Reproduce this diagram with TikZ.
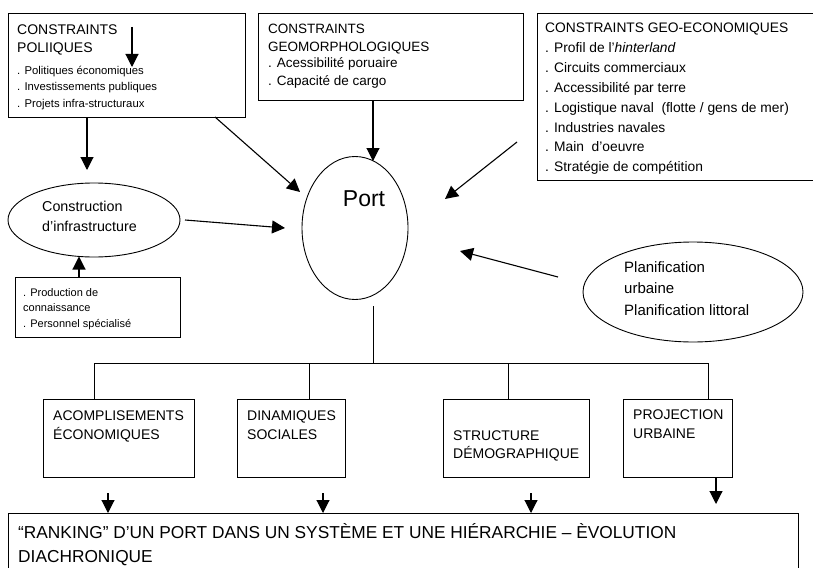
\documentclass[tikz,border=0pt]{standalone}
\usepackage{fontspec}
\setmainfont{Liberation Sans}
\usetikzlibrary{arrows.meta,shapes.geometric,calc}
\newcommand\fszTitle{\fontsize{14}{16}\selectfont}
\newcommand\fszItem{\fontsize{11.3}{13}\selectfont}
\newcommand\fszGeo{\fontsize{13.5}{15}\selectfont}
\newcommand\fszEco{\fontsize{13.8}{15}\selectfont}
\newcommand\fszCon{\fontsize{14.3}{16}\selectfont}
\newcommand\fszProd{\fontsize{11}{13}\selectfont}
\newcommand\fszPlan{\fontsize{15}{17}\selectfont}
\newcommand\fszPort{\fontsize{23}{26}\selectfont}
\newcommand\fszBot{\fontsize{14}{16}\selectfont}
\newcommand\fszRank{\fontsize{17.3}{20}\selectfont}
\begin{document}
\begin{tikzpicture}[x=1pt,y=-1pt,
  frame/.style={draw, line width=0.9pt, inner sep=0pt, anchor=north west},
  oval/.style={draw, ellipse, line width=0.9pt, inner sep=0pt},
  txt/.style={anchor=base west, inner sep=0pt},
  arr/.style={line width=1.1pt, -{Triangle[length=13pt,width=13pt]}},
  ln/.style={line width=1pt}]
\useasboundingbox (0,0) rectangle (813,567);

% ---------- top boxes ----------
\node[frame, minimum width=237pt, minimum height=104pt] (b1) at (8,13) {};
\node[txt, font=\fszTitle] (b1t1) at (17,35) {CONSTRAINTS};
\node[txt, font=\fszTitle] (b1t2) at (17,53) {POLIIQUES};
\foreach \t [count=\i from 0] in {{. Politiques économiques},{. Investissements publiques},{. Projets infra-structuraux}}
  \node[txt, font=\fszItem] (b1i\i) at (17,{74.5+16.3*\i}) {\t};

\node[frame, minimum width=265pt, minimum height=87pt] (b2) at (258,13) {};
\foreach \t/\yy [count=\i] in {{CONSTRAINTS}/34,{GEOMORPHOLOGIQUES}/52,{. Acessibilité poruaire}/68,{. Capacité de cargo}/86}
  \node[txt, font=\fszGeo] (b2l\i) at (268,\yy) {\t};

\node[frame, minimum width=300pt, minimum height=167pt] (b3) at (537,13) {};
\foreach \t [count=\i from 0] in {{CONSTRAINTS GEO-ECONOMIQUES},{. Profil de l’\textit{hinterland}},{. Circuits commerciaux},{. Accessibilité par terre},{. Logistique naval\ \ (flotte / gens de mer)},{. Industries navales},{. Main\ \ d’oeuvre},{. Stratégie de compétition}}
  \node[txt, font=\fszEco] (b3l\i) at (545,{33+19.8*\i}) {\t};

% ---------- middle ----------
\node[oval, minimum width=172pt, minimum height=74pt] (con) at (94,220) {};
\node[txt, font=\fszCon] (con1) at (42,211) {Construction};
\node[txt, font=\fszCon] (con2) at (42,231) {d’infrastructure};

\node[frame, minimum width=165pt, minimum height=60pt] (prod) at (15,277) {};
\node[txt, font=\fszProd] (pr1) at (23,296) {. Production de};
\node[txt, font=\fszProd] (pr2) at (23,311.5) {connaissance};
\node[txt, font=\fszProd] (pr3) at (23,327) {. Personnel spécialisé};

\node[oval, minimum width=106pt, minimum height=143pt] (port) at (355,228) {};
\node[anchor=base, inner sep=0pt, font=\fszPort] (portt) at (364,206) {Port};

\node[oval, minimum width=220pt, minimum height=100pt] (plan) at (693,292) {};
\node[txt, font=\fszPlan] (pl1) at (624,272) {Planification};
\node[txt, font=\fszPlan] (pl2) at (624,293.5) {urbaine};
\node[txt, font=\fszPlan] (pl3) at (624,315) {Planification littoral};

% ---------- bottom boxes ----------
\node[frame, minimum width=151pt, minimum height=78pt] (a1) at (43,399) {};
\node[txt, font=\fszBot] (a1t1) at (53,420) {ACOMPLISEMENTS};
\node[txt, font=\fszBot] (a1t2) at (53,439) {ÉCONOMIQUES};

\node[frame, minimum width=108pt, minimum height=78pt] (a2) at (237,399) {};
\node[txt, font=\fszBot] (a2t1) at (247,420) {DINAMIQUES};
\node[txt, font=\fszBot] (a2t2) at (247,439) {SOCIALES};

\node[frame, minimum width=146pt, minimum height=78pt] (a3) at (443,399) {};
\node[txt, font=\fszBot] (a3t1) at (453,440) {STRUCTURE};
\node[txt, font=\fszBot] (a3t2) at (453,458) {DÉMOGRAPHIQUE};

\node[frame, minimum width=109pt, minimum height=78pt] (a4) at (623,399) {};
\node[txt, font=\fszBot] (a4t1) at (633,419) {PROJECTION};
\node[txt, font=\fszBot] (a4t2) at (633,438) {URBAINE};

\node[frame, minimum width=790pt, minimum height=70pt] (rk) at (8,513) {};
\node[txt, font=\fszRank] (rk1) at (18,538) {“RANKING” D’UN PORT DANS UN SYSTÈME ET UNE HIÉRARCHIE – ÈVOLUTION};
\node[txt, font=\fszRank] (rk2) at (18,562) {DIACHRONIQUE};

% ---------- connector coordinates ----------
\coordinate (s0) at (132,27);  \coordinate (t0) at (132,67);
\coordinate (t1) at (87,170);
\coordinate (s2) at (215,117); \coordinate (t2) at (300,192);
\coordinate (s3) at (185,220); \coordinate (t3) at (285,228);
\coordinate (t4) at (373,161);
\coordinate (s5) at (517,142); \coordinate (t5) at (445,199);
\coordinate (s6) at (558,277); \coordinate (t6) at (460,251);
\coordinate (t7) at (79,256.5);
\coordinate (ps) at (373,306);
\coordinate (h1) at (94,363); \coordinate (h2) at (309,363);
\coordinate (hp) at (373,363); \coordinate (h3) at (508,363);
\coordinate (h4) at (708,363);
\coordinate (d1) at (108,493); \coordinate (d2) at (323,493);
\coordinate (d3) at (531,493); \coordinate (d4) at (716,504);

% ---------- arrows ----------
\draw[arr] (s0) -- (t0);
\draw[arr] (b1.south -| t1) -- (t1);
\draw[arr] (s2) -- (t2);
\draw[arr] (s3) -- (t3);
\draw[arr] (b2.south -| t4) -- (t4);
\draw[arr] (s5) -- (t5);
\draw[arr] (s6) -- (t6);
\draw[arr] (prod.north -| t7) -- (t7);

% ---------- tree ----------
\draw[ln] (ps) -- (hp);
\draw[ln] (a1.north -| h1) -- (h1) -- (h4) -- (a4.north -| h4);
\draw[ln] (h2) -- (a2.north -| h2);
\draw[ln] (h3) -- (a3.north -| h3);

\draw[arr] (d1) -- (rk.north -| d1);
\draw[arr] (d2) -- (rk.north -| d2);
\draw[arr] (d3) -- (rk.north -| d3);
\draw[arr] (a4.south -| d4) -- (d4);
\end{tikzpicture}
\end{document}
